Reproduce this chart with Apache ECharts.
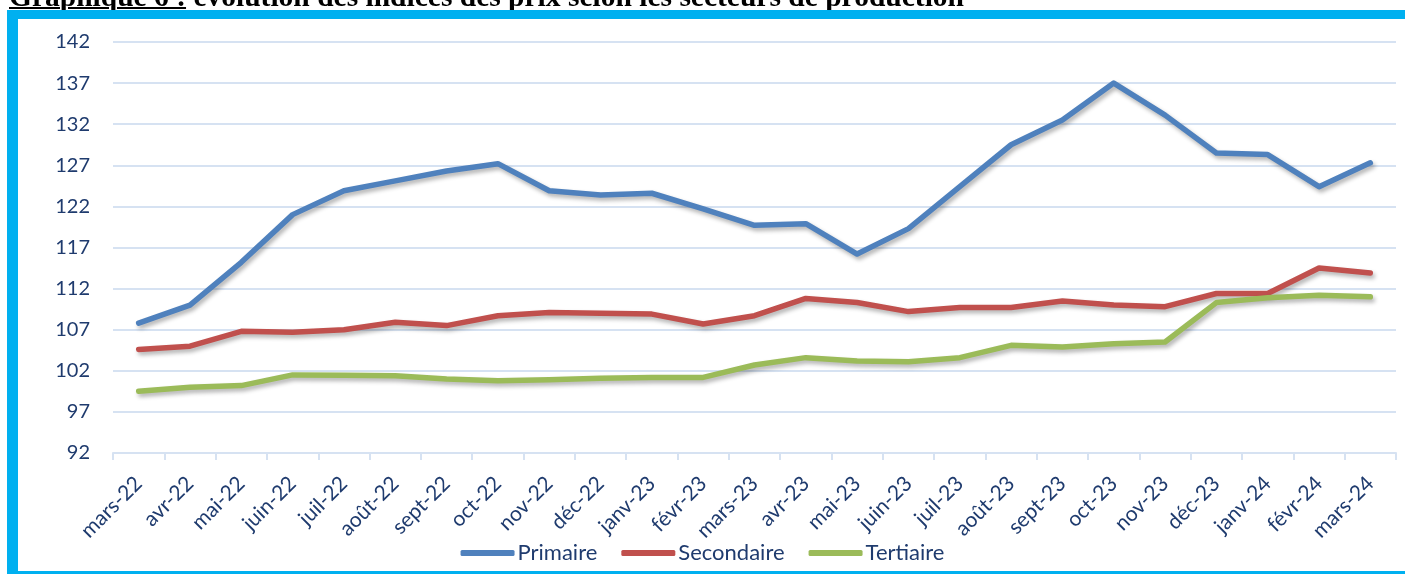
<!DOCTYPE html>
<html>
<head>
<meta charset="utf-8">
<script src="https://cdn.jsdelivr.net/npm/echarts@6/dist/echarts.min.js"></script>
<style>
  html, body { margin: 0; padding: 0; background: #fff; overflow: hidden; }
  #wrap { position: relative; width: 1405px; height: 574px; }
  #chart { position: absolute; left: 0; top: 0; width: 1405px; height: 574px; }
  #title {
    position: absolute; left: 9px; top: -18px; white-space: nowrap;
    font-family: "Liberation Serif", serif; font-weight: bold; font-size: 29.5px; line-height: 29px; color: #000;
  }
  #title u { text-decoration-thickness: 2px; }
  .frame { position: absolute; background: #00B0F0; }
</style>
</head>
<body>
<div id="wrap">
  <div id="chart"></div>
  <div id="title"><u>Graphique 6 :</u> évolution des indices des prix selon les secteurs de production</div>
  <div class="frame" style="left:7px; top:10px; width:1398px; height:9px;"></div>
  <div class="frame" style="left:7px; top:10px; width:11px; height:564px;"></div>
  <div class="frame" style="left:7px; top:571px; width:1398px; height:3px;"></div>
</div>
<script>
const months = ['mars-22', 'avr-22', 'mai-22', 'juin-22', 'juil-22', 'août-22', 'sept-22', 'oct-22',
  'nov-22', 'déc-22', 'janv-23', 'févr-23', 'mars-23', 'avr-23', 'mai-23', 'juin-23', 'juil-23',
  'août-23', 'sept-23', 'oct-23', 'nov-23', 'déc-23', 'janv-24', 'févr-24', 'mars-24']

const primaire = [107.8, 110.0, 115.2, 121.0, 123.9, 125.1, 126.3, 127.2, 123.9, 123.4, 123.6, 121.7,
  119.7, 119.9, 116.2, 119.3, 124.4, 129.5, 132.5, 137.0, 133.1, 128.5, 128.3, 124.4, 127.3]
const secondaire = [104.6, 105.0, 106.8, 106.7, 107.0, 107.9, 107.5, 108.7, 109.1, 109.0, 108.9, 107.7,
  108.7, 110.8, 110.3, 109.2, 109.7, 109.7, 110.5, 110.0, 109.8, 111.4, 111.4, 114.5, 113.9]
const tertiaire = [99.5, 100.0, 100.2, 101.5, 101.45, 101.4, 101.0, 100.8, 100.9, 101.1, 101.2, 101.2,
  102.7, 103.6, 103.2, 103.1, 103.6, 105.1, 104.9, 105.3, 105.5, 110.3, 110.9, 111.2, 111.0]

const labelColor = '#1F3B6E'
const gridColor = '#D6E2F2'
const font = 'Lato'

const chart = echarts.init(document.getElementById('chart'))

const makeSeries = (name, data, color) => ({
  name: name,
  type: 'line',
  data: data,
  symbol: 'none',
  smooth: false,
  lineStyle: {
    color: color,
    width: 5.5,
    cap: 'round',
    join: 'round',
    shadowColor: 'rgba(0, 0, 0, 0.3)',
    shadowBlur: 4,
    shadowOffsetX: 2,
    shadowOffsetY: 3
  },
  itemStyle: { color: color }
})

chart.setOption({
  animation: false,
  grid: { left: 113, right: 9, top: 42, bottom: 121, containLabel: false },
  legend: {
    top: 537,
    left: 'center',
    icon: 'roundRect',
    itemWidth: 54,
    itemHeight: 6,
    itemGap: 24,
    textStyle: { fontFamily: font, fontSize: 22, color: labelColor, padding: [0, 0, 0, -2] },
    data: ['Primaire', 'Secondaire', 'Tertiaire']
  },
  xAxis: {
    type: 'category',
    data: months,
    boundaryGap: true,
    axisLine: { lineStyle: { color: gridColor, width: 2 } },
    axisTick: { show: true, length: 7, lineStyle: { color: gridColor, width: 2 } },
    axisLabel: {
      rotate: 45,
      interval: 0,
      margin: 27,
      fontFamily: font,
      fontSize: 21,
      color: labelColor
    }
  },
  yAxis: {
    type: 'value',
    min: 92,
    max: 142,
    interval: 5,
    axisLine: { show: false },
    axisTick: { show: false },
    splitLine: { lineStyle: { color: gridColor, width: 2 } },
    axisLabel: { margin: 23, fontFamily: font, fontSize: 20, color: labelColor }
  },
  series: [
    makeSeries('Primaire', primaire, '#4F81BD'),
    makeSeries('Secondaire', secondaire, '#C0504D'),
    makeSeries('Tertiaire', tertiaire, '#9BBB59')
  ]
})
</script>
</body>
</html>
